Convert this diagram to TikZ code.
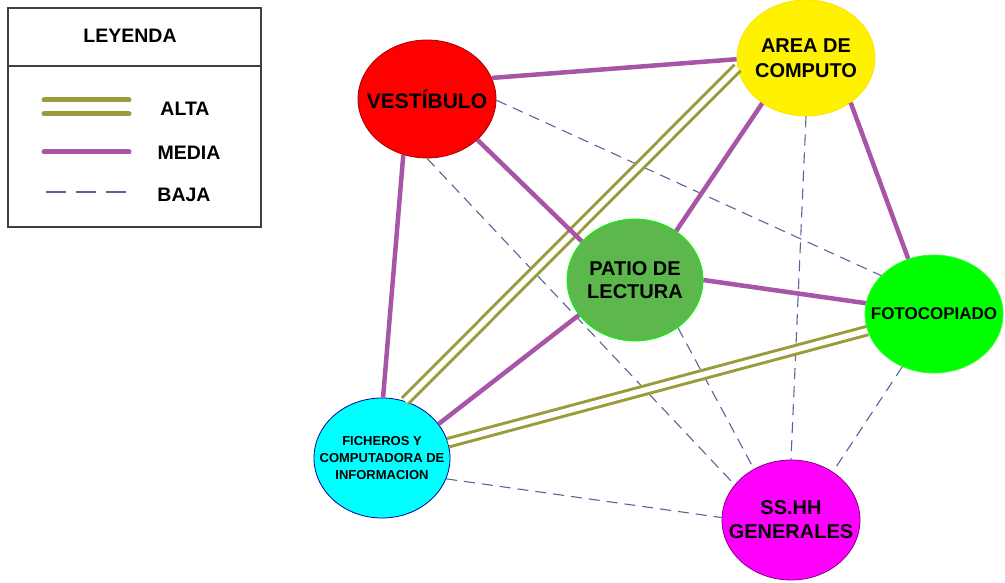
\documentclass[tikz,border=0pt]{standalone}
\usepackage{fontspec}
\setmainfont{Liberation Sans}
\usetikzlibrary{shapes.geometric}
\definecolor{altacol}{HTML}{9C9B3C}
\definecolor{mediacol}{HTML}{A855A8}
\definecolor{bajacol}{HTML}{56659A}
\definecolor{boxgray}{HTML}{404040}
\definecolor{patiogreen}{HTML}{5CB84C}
\definecolor{purecyan}{HTML}{00FFFF}
\definecolor{puremag}{HTML}{FF00FF}

\begin{document}
\begin{tikzpicture}[x=1pt,y=-1pt,
  zona/.style={ellipse,draw,line width=0.8pt,minimum width=138pt,minimum height=118pt,
    inner sep=-20pt,align=center,text=black},
  legtxt/.style={font=\bfseries\fontsize{19.5}{22}\selectfont},
  altaline/.style={line width=3pt,draw=altacol,double=white,double distance=5.5pt},
  medialine/.style={line width=4.5pt,mediacol},
  bajaline/.style={line width=1.1pt,bajacol,dash pattern=on 11pt off 7pt}]
  \useasboundingbox (0,0) rectangle (1005,583);

  % leyenda
  \draw[boxgray,line width=1.1pt] (8,8) rectangle (261,227);
  \draw[boxgray,line width=1.1pt] (8,66) -- (261,66);
  \node[legtxt] (tley) at (130,36) {LEYENDA};
  \node[legtxt] (talta) at (185,109) {ALTA};
  \node[legtxt] (tmedia) at (189,153) {MEDIA};
  \node[legtxt] (tbaja) at (184,195) {BAJA};
  \draw[altacol,line width=5pt,line cap=round] (44,100) -- (129,100);
  \draw[altacol,line width=5pt,line cap=round] (44,114) -- (129,114);
  \draw[mediacol,line width=5pt,line cap=round] (44,152) -- (129,152);
  \draw[bajacol,line width=1.2pt,dash pattern=on 20pt off 10pt] (46,192) -- (127,192);

  % zonas
  \node[zona,fill=red,draw=red!65!black,font=\bfseries\fontsize{21}{24}\selectfont]
    (vest) at (427,99) {VESTÍBULO};
  \node[zona,fill=yellow,draw=yellow!85!orange,minimum height=116pt,
    font=\bfseries\fontsize{20}{25}\selectfont] (area) at (806,58) {AREA DE\\COMPUTO};
  \node[zona,fill=patiogreen,draw=green,minimum width=136pt,minimum height=122pt,
    font=\bfseries\fontsize{20}{23}\selectfont] (patio) at (635,280) {PATIO DE\\LECTURA};
  \node[zona,fill=green,draw=green!80!white,font=\bfseries\fontsize{17}{20}\selectfont]
    (foto) at (934,314) {FOTOCOPIADO};
  \node[zona,fill=purecyan,draw=blue!60!black,minimum width=136pt,minimum height=120pt,
    font=\bfseries\fontsize{13}{17}\selectfont] (fich) at (382,458)
    {FICHEROS Y\\COMPUTADORA DE\\INFORMACION};
  \node[zona,fill=puremag,draw=puremag!50!black,minimum height=120pt,
    font=\bfseries\fontsize{20}{24}\selectfont] (sshh) at (791,520) {SS.HH\\GENERALES};

  % relaciones
  \foreach \a/\b in {vest.359/foto.144, vest.270/sshh.148, patio.312/sshh.126,
      area.270/sshh.90, fich.342/sshh.178, foto.239/sshh.49}
    \draw[bajaline] (\a) -- (\b);
  \foreach \a/\b in {area.188/fich.68, foto.194/fich.13}
    \draw[altaline] (\a) -- (\b);
  \foreach \a/\b in {vest.18/area.181, vest.321/patio.144, vest.247/fich.89,
      area.226/patio.50, area.315/foto.115, patio.0/foto.171, patio.212/fich.31}
    \draw[medialine] (\a) -- (\b);
\end{tikzpicture}
\end{document}
